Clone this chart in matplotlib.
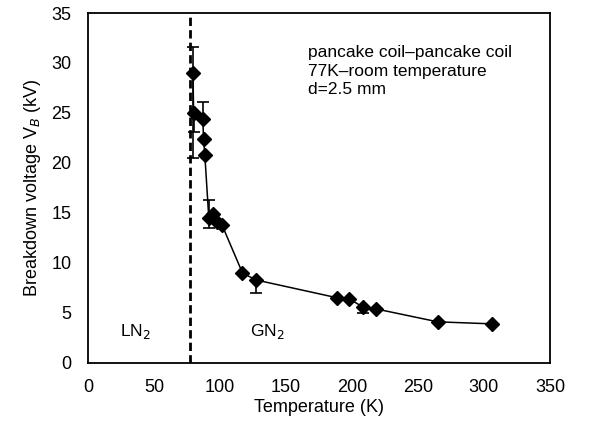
"""Breakdown voltage vs temperature, pancake coil - pancake coil, d=2.5 mm."""
import matplotlib
matplotlib.use('Agg')
import matplotlib.pyplot as plt

plt.rcParams['font.family'] = ['Liberation Sans', 'DejaVu Sans']

# measured points, in the order the line connects them
temp_K = [79.5, 80, 87, 87.5, 88.5, 91.5, 95, 98, 101.5, 117, 127,
          189, 198, 208, 218, 265, 306]
vb_kV = [29.0, 25.0, 24.4, 22.4, 20.8, 14.5, 14.9, 14.1, 13.8, 9.0, 8.3,
         6.5, 6.4, 5.6, 5.4, 4.1, 3.9]

# error bars (only drawn where the reference shows them)
err_T = [79.5, 80, 87, 91.5, 127, 208]
err_V = [29.0, 25.0, 24.4, 14.5, 8.3, 5.6]
err_lo = [8.5, 1.9, 0.0, 1.0, 1.3, 0.6]
err_hi = [2.6, 0.0, 1.7, 1.8, 0.0, 0.0]

T_LN2 = 77.0

fig, ax = plt.subplots(figsize=(6.03, 4.34), dpi=100)
fig.subplots_adjust(left=0.146, right=0.912, top=0.970, bottom=0.164)

ax.plot(temp_K, vb_kV, 'k-', lw=1.1, zorder=3)
ax.errorbar(err_T, err_V, yerr=[err_lo, err_hi], fmt='none', ecolor='k',
            elinewidth=1.2, capsize=4, capthick=1.2, zorder=3)
ax.plot(temp_K, vb_kV, 'kD', ms=7.5, zorder=4)
ax.plot([T_LN2, T_LN2], [0, 35], 'k', ls=(0, (3, 1.5)), lw=2.0, zorder=2)

ax.text(167, 31.8, 'pancake coil\u2013pancake coil\n77K\u2013room temperature\nd=2.5 mm',
        fontsize=12.5, va='top', ha='left', linespacing=1.3)
ax.text(36, 3.1, 'LN$_2$', fontsize=12.5, ha='center', va='center')
ax.text(136, 3.1, 'GN$_2$', fontsize=12.5, ha='center', va='center')

ax.set_xlim(0, 350)
ax.set_ylim(0, 35)
ax.set_xticks(range(0, 351, 50))
ax.set_yticks(range(0, 36, 5))
ax.tick_params(length=0, labelsize=13, pad=12)
ax.set_xlabel('Temperature (K)', fontsize=13, labelpad=2)
ax.set_ylabel('Breakdown voltage V$_B$ (kV)', fontsize=13, labelpad=6)
for s in ax.spines.values():
    s.set_linewidth(1.3)

fig.savefig('out.png', dpi=100)
